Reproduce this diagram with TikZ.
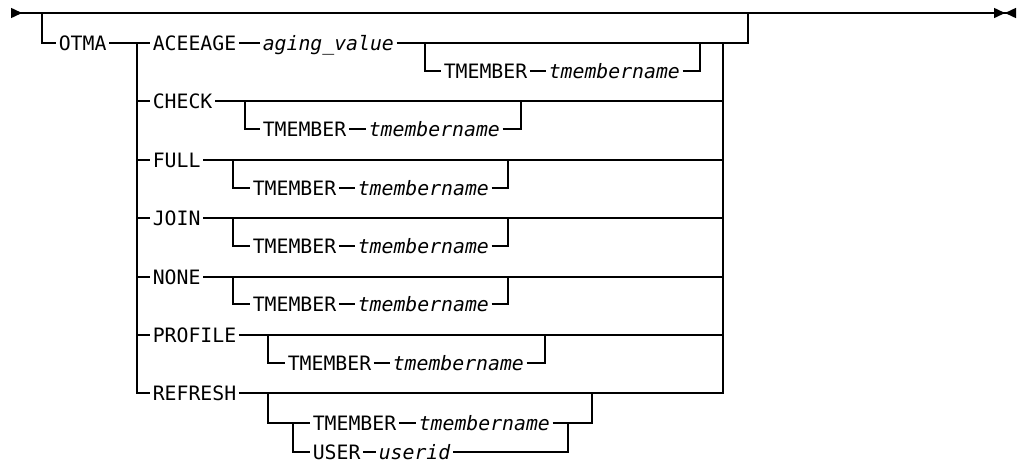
\documentclass[tikz,border=0pt]{standalone}
\usepackage{fontspec}
\setmonofont{DejaVu Sans Mono}
\usetikzlibrary{arrows.meta}

\begin{document}
\begin{tikzpicture}[
    x=1pt, y=-1pt,
    line width=1.5pt,
    kw/.style={anchor=west, inner xsep=2pt, inner ysep=0pt, text height=14.4pt, text depth=0pt,
      font=\ttfamily\fontsize{19.8}{23}\selectfont},
    var/.style={kw, font=\ttfamily\itshape\fontsize{19.8}{23}\selectfont}
  ]
  \useasboundingbox (0,0) rectangle (1018,464);
  % main line
  \coordinate (start) at (11,13);
  \coordinate (finish) at (1016,13);
  \coordinate (drop) at (42,13);
  \coordinate (ret) at (748,13);
  \draw[{Triangle[reversed, length=11pt, width=10pt]}-{Triangle[length=11pt, width=10pt, sep=0pt]Triangle[reversed, length=11pt, width=10pt]}]
    (start) -- (finish);

  \node[kw] (otma) at (56,43) {OTMA};
  \coordinate (b0) at (137,43);
  \coordinate (c0) at (723,43);

  \node[kw] (aceeage) at (150,43) {ACEEAGE};
  \node[var] (aging) at (260,43) {aging\_value};
  \node[kw] (tmA) at (441,71) {TMEMBER};
  \node[var] (tnA) at (546,71) {tmembername};
  \coordinate (oA) at (425,43);
  \coordinate (cA) at (700,43);

  \node[kw] (check) at (150,101) {CHECK};
  \node[kw] (tmC) at (260,129) {TMEMBER};
  \node[var] (tnC) at (366,129) {tmembername};
  \coordinate (oC) at (245,101);
  \coordinate (cC) at (521,101);

  \node[kw] (full) at (150,160) {FULL};
  \node[kw] (tmF) at (250,188) {TMEMBER};
  \node[var] (tnF) at (355,188) {tmembername};
  \coordinate (oF) at (233,160);
  \coordinate (cF) at (508,160);

  \node[kw] (join) at (150,218) {JOIN};
  \node[kw] (tmJ) at (250,246) {TMEMBER};
  \node[var] (tnJ) at (355,246) {tmembername};
  \coordinate (oJ) at (233,218);
  \coordinate (cJ) at (508,218);

  \node[kw] (none) at (150,277) {NONE};
  \node[kw] (tmN) at (250,304) {TMEMBER};
  \node[var] (tnN) at (355,304) {tmembername};
  \coordinate (oN) at (233,277);
  \coordinate (cN) at (508,277);

  \node[kw] (profile) at (150,335) {PROFILE};
  \node[kw] (tmP) at (285,363) {TMEMBER};
  \node[var] (tnP) at (390,363) {tmembername};
  \coordinate (oP) at (268,335);
  \coordinate (cP) at (545,335);

  \node[kw] (refresh) at (150,393) {REFRESH};
  \node[kw] (tmR) at (310,423) {TMEMBER};
  \node[var] (tnR) at (416,423) {tmembername};
  \node[kw] (user) at (310,452) {USER};
  \node[var] (uid) at (376,452) {userid};
  \coordinate (oR) at (268,393);
  \coordinate (iR) at (293,423);
  \coordinate (cR) at (592,393);
  \coordinate (jR) at (568,423);

  % OTMA and the choice
  \draw (drop) |- (otma.west);
  \draw (otma.east) -- (aceeage.west);
  \draw (b0) |- (check.west);
  \draw (b0) |- (full.west);
  \draw (b0) |- (join.west);
  \draw (b0) |- (none.west);
  \draw (b0) |- (profile.west);
  \draw (b0) |- (refresh.west);
  \draw (refresh.east) -| (c0);
  \draw (aging.east) -| (ret);

  % ACEEAGE
  \draw (aceeage.east) -- (aging.west);
  \draw (oA) |- (tmA.west);
  \draw (tmA.east) -- (tnA.west);
  \draw (tnA.east) -| (cA);

  % CHECK, FULL, JOIN, NONE, PROFILE
  \draw (check.east) -- (check.east -| c0);
  \draw (oC) |- (tmC.west);
  \draw (tmC.east) -- (tnC.west);
  \draw (tnC.east) -| (cC);

  \draw (full.east) -- (full.east -| c0);
  \draw (oF) |- (tmF.west);
  \draw (tmF.east) -- (tnF.west);
  \draw (tnF.east) -| (cF);

  \draw (join.east) -- (join.east -| c0);
  \draw (oJ) |- (tmJ.west);
  \draw (tmJ.east) -- (tnJ.west);
  \draw (tnJ.east) -| (cJ);

  \draw (none.east) -- (none.east -| c0);
  \draw (oN) |- (tmN.west);
  \draw (tmN.east) -- (tnN.west);
  \draw (tnN.east) -| (cN);

  \draw (profile.east) -- (profile.east -| c0);
  \draw (oP) |- (tmP.west);
  \draw (tmP.east) -- (tnP.west);
  \draw (tnP.east) -| (cP);

  % REFRESH
  \draw (oR) |- (tmR.west);
  \draw (iR) |- (user.west);
  \draw (tmR.east) -- (tnR.west);
  \draw (tnR.east) -| (cR);
  \draw (user.east) -- (uid.west);
  \draw (uid.east) -| (jR);
\end{tikzpicture}
\end{document}
